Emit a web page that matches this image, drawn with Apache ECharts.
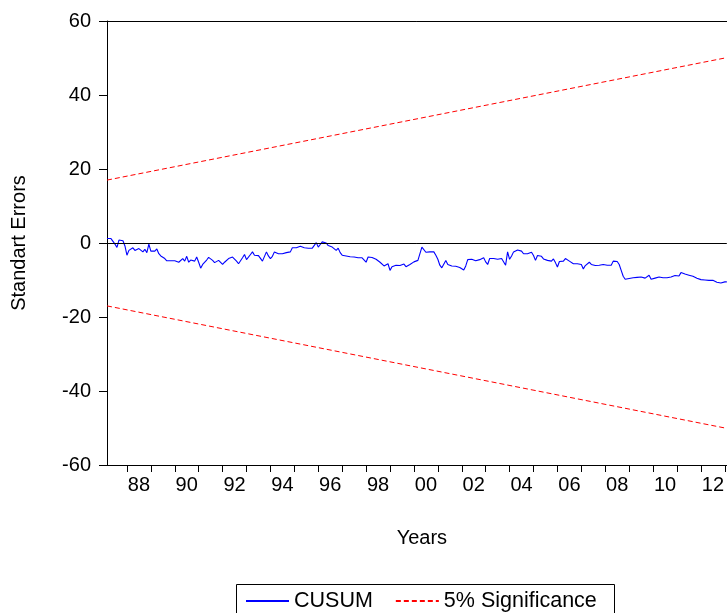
<!DOCTYPE html>
<html>
<head>
<meta charset="utf-8">
<script src="https://cdn.jsdelivr.net/npm/echarts@6/dist/echarts.min.js"></script>
<style>html,body{margin:0;padding:0;background:#fff}#c{width:727px;height:613px}</style>
</head>
<body>
<div id="c"></div>
<script>
// Monthly observations 1987M03 .. 2013M02
const startYear = 1987, startMonth = 3, monthCount = 312;
const months = [];
for (let k = 0; k < monthCount; k++) {
  const m = startMonth - 1 + k;
  const y = startYear + Math.floor(m / 12);
  const mm = (m % 12) + 1;
  months.push(y + 'M' + (mm < 10 ? '0' + mm : '' + mm));
}

const cusum1987_1991 = [1.2, 1.1, 1.2, 1.0, -0.3, -1.2, 0.8, 1.0, 0.6, -0.8,
  -3.3, -2.0, -2.2, -1.3, -2.0, -2.2, -1.5, -2.0, -2.4, -1.7,
  -2.6, -0.3, -2.2, -2.6, -2.2, -1.6, -2.9, -3.5, -3.8, -4.2,
  -4.8, -4.9, -4.8, -4.9, -4.8, -5.0, -5.2, -5.6, -4.2, -4.9,
  -3.6, -5.2, -4.6, -4.2, -4.9, -3.8, -5.2, -6.8, -5.8, -6.1,
  -4.6, -3.9];
const cusum1991_1995 = [-4.4, -4.7, -5.3, -5.6, -4.7, -4.2, -5.8, -5.2, -4.7, -4.2,
  -4.4, -3.8, -4.3, -4.9, -5.6, -5.3, -4.0, -3.1, -4.5, -4.7,
  -3.1, -2.4, -3.3, -3.1, -3.4, -3.5, -4.9, -4.4, -2.4, -3.5,
  -4.2, -3.6, -2.4, -2.2, -2.9, -2.4, -2.9, -2.9, -2.6, -2.6,
  -2.4, -1.3, -1.7, -1.3, -1.0, -0.9, -1.4, -1.3, -1.3];
const cusum1995_1999 = [-1.4, -1.7, -1.4, -1.3, 0.1, -1.1, -0.4, 0.3, 0.2, 0.0,
  -0.7, -0.4, -1.1, -1.6, -2.0, -1.4, -2.6, -3.3, -3.5, -3.5,
  -3.4, -3.7, -3.6, -3.8, -4.0, -4.0, -4.2, -4.0, -3.6, -5.2,
  -3.8, -4.2, -3.9, -4.1, -4.4, -4.9, -5.2, -5.4, -6.2, -6.3,
  -5.6, -7.4, -6.4, -6.3, -6.0, -6.5, -6.1, -5.9, -5.7, -6.4,
  -6.0];
const cusum1999_2003 = [-5.8, -6.0, -5.1, -5.2, -4.7, -4.4, -1.1, -1.4, -2.5, -2.2,
  -2.4, -2.5, -2.4, -3.3, -4.4, -6.0, -6.7, -7.0, -4.7, -5.8,
  -5.6, -6.2, -6.0, -6.3, -6.1, -6.6, -7.1, -7.3, -6.2, -4.5,
  -4.6, -4.4, -4.7, -4.8, -4.8, -4.5, -4.2, -4.0, -5.1, -5.8,
  -4.2, -4.4, -4.2, -4.2, -4.4, -4.6, -4.2, -4.5, -6.0, -2.4];
const cusum2003_2008 = [-4.4, -3.5, -2.4, -2.0, -1.9, -1.5, -2.2, -2.9, -3.4, -2.9,
  -3.3, -2.5, -3.4, -4.7, -3.4, -3.2, -3.6, -4.3, -4.2, -4.7,
  -4.8, -4.9, -4.3, -5.3, -6.5, -5.0, -5.1, -4.9, -4.2, -4.4,
  -4.9, -5.2, -5.6, -5.1, -5.6, -6.1, -5.8, -7.0, -6.1, -6.5,
  -5.2, -5.8, -5.8, -6.1, -6.5, -6.0, -5.8, -5.8, -6.1, -6.0];
const cusum2008_2013 = [-6.2, -6.0, -4.9, -4.8, -5.0, -5.8, -7.4, -9.0, -9.8, -9.4,
  -9.6, -9.9, -9.4, -9.7, -9.3, -9.0, -9.2, -9.1, -9.5, -9.2,
  -8.7, -9.8, -9.3, -9.5, -9.0, -9.2, -9.2, -9.4, -9.3, -9.4,
  -9.2, -9.2, -8.9, -8.8, -8.7, -8.9, -8.0, -8.1, -8.4, -8.5,
  -8.7, -8.7, -9.0, -9.3, -9.5, -9.4, -9.9, -10.1, -10.0, -10.0,
  -10.1, -10.3, -10.1, -10.3, -10.6, -10.6, -10.8, -10.8, -10.5, -10.5];
const cusum = [].concat(cusum1987_1991, cusum1991_1995, cusum1995_1999,
  cusum1999_2003, cusum2003_2008, cusum2008_2013);

const boundStart = 17.0, boundEnd = 50.1;
const upperBound = [[months[0], boundStart], [months[monthCount - 1], boundEnd]];
const lowerBound = [[months[0], -boundStart], [months[monthCount - 1], -boundEnd]];
const yTicks = { min: -60, max: 60, step: 20 };

const FONT = '"Liberation Sans", Arial, sans-serif';
const chart = echarts.init(document.getElementById('c'), null, { renderer: 'canvas' });
chart.setOption({
  animation: false,
  backgroundColor: '#fff',
  grid: { left: 107, top: 21, right: 0, bottom: 148, containLabel: false },
  xAxis: [{
    type: 'category', data: months, boundaryGap: false,
    name: 'Years', nameLocation: 'middle', nameGap: 63,
    nameTextStyle: { fontFamily: FONT, fontSize: 20, color: '#000', padding: [0, 0, 0, 10] },
    axisLine: { onZero: false, lineStyle: { color: '#000', width: 1 } },
    axisTick: { show: true, inside: false, length: 7, lineStyle: { color: '#000' },
      interval: function (i, v) { return v.slice(5) === '01'; } },
    axisLabel: { fontFamily: FONT, fontSize: 20, color: '#000', margin: 10,
      interval: function (i, v) { return v.slice(5) === '07' && parseInt(v.slice(0, 4), 10) % 2 === 0; },
      formatter: function (v) { return v.slice(2, 4); } },
    splitLine: { show: false }
  }, {
    type: 'category', data: months, boundaryGap: false, position: 'top',
    axisLine: { onZero: false, lineStyle: { color: '#000', width: 1 } },
    axisTick: { show: false }, axisLabel: { show: false }, splitLine: { show: false }
  }],
  yAxis: {
    type: 'value', min: yTicks.min, max: yTicks.max, interval: yTicks.step,
    name: 'Standart Errors', nameLocation: 'middle', nameGap: 78,
    nameTextStyle: { fontFamily: FONT, fontSize: 20, color: '#000' },
    axisLine: { show: true, lineStyle: { color: '#000', width: 1 } },
    axisTick: { show: true, inside: false, length: 8, lineStyle: { color: '#000' } },
    axisLabel: { fontFamily: FONT, fontSize: 20, color: '#000', margin: 16 },
    splitLine: { show: false }
  },
  legend: {
    data: ['CUSUM', '5% Significance'],
    left: 245, top: 590, padding: 0,
    itemWidth: 43, itemHeight: 10, itemGap: 22,
    itemStyle: { opacity: 0 },
    textStyle: { fontFamily: FONT, fontSize: 21.5, color: '#000' }
  },
  graphic: [{
    type: 'rect', shape: { x: 236.5, y: 584.5, width: 378, height: 40 },
    style: { fill: 'none', stroke: '#000', lineWidth: 1 }, silent: true
  }],
  series: [{
    name: 'CUSUM', type: 'line', data: cusum, xAxisIndex: 0,
    symbol: 'none', lineStyle: { color: '#0000FF', width: 1.1 }, itemStyle: { color: '#0000FF' },
    markLine: { silent: true, symbol: 'none', label: { show: false },
      lineStyle: { color: '#000', type: 'solid', width: 1 }, data: [{ yAxis: 0 }] }
  }, {
    name: '5% Significance', type: 'line', data: upperBound, xAxisIndex: 0,
    symbol: 'none', lineStyle: { color: '#FF0000', width: 1, type: [5, 3] }, itemStyle: { color: '#FF0000' }
  }, {
    name: '5% Significance', type: 'line', data: lowerBound, xAxisIndex: 0,
    symbol: 'none', lineStyle: { color: '#FF0000', width: 1, type: [5, 3] }, itemStyle: { color: '#FF0000' }
  }]
});
</script>
</body>
</html>
